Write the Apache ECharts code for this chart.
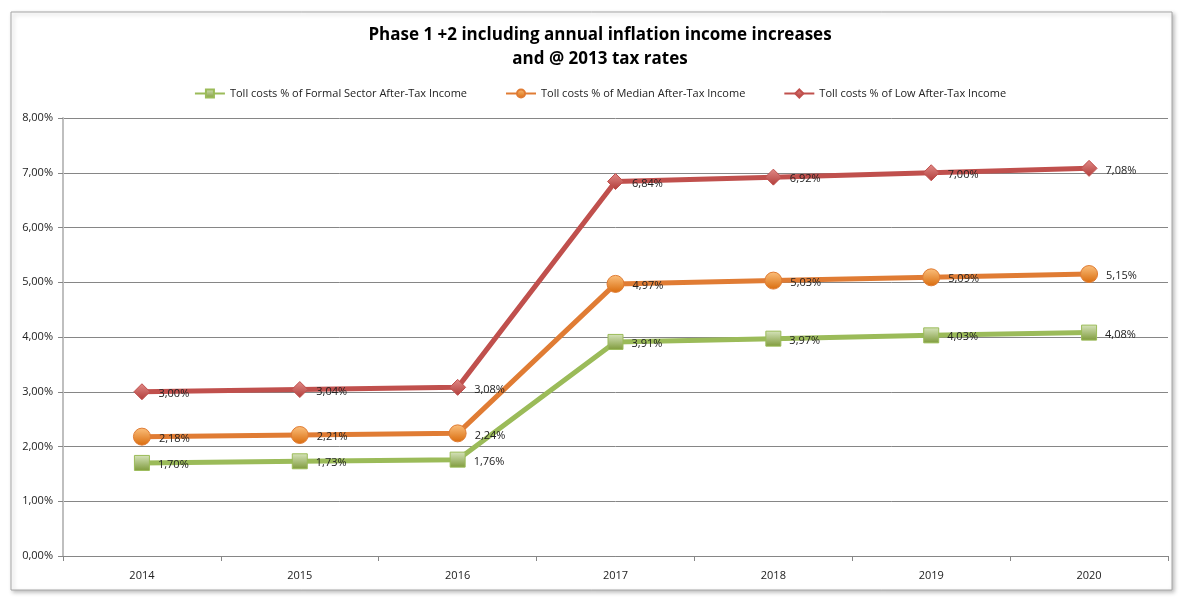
<!DOCTYPE html>
<html>
<head>
<meta charset="utf-8">
<script src="https://cdn.jsdelivr.net/npm/echarts@6/dist/echarts.min.js"></script>
<style>
  html, body { margin: 0; padding: 0; background: #fff; }
  #chart-container { width: 1200px; height: 603px; }
</style>
</head>
<body>
<div id="chart-container"></div>
<script>
var years = ['2014', '2015', '2016', '2017', '2018', '2019', '2020'];
var formalSector = [1.70, 1.73, 1.76, 3.91, 3.97, 4.03, 4.08];
var median = [2.18, 2.21, 2.24, 4.97, 5.03, 5.09, 5.15];
var lowIncome = [3.00, 3.04, 3.08, 6.84, 6.92, 7.00, 7.08];
var seriesNames = [
  'Toll costs % of Formal Sector After-Tax Income',
  'Toll costs % of Median After-Tax Income',
  'Toll costs % of Low After-Tax Income'
];

var dom = document.getElementById('chart-container');
var myChart = echarts.init(dom, null, { renderer: 'canvas' });

function pct(v) {
  return v.toFixed(2).replace('.', ',') + '%';
}

function grad(top, bottom) {
  return new echarts.graphic.LinearGradient(0, 0, 0, 1, [
    { offset: 0, color: top },
    { offset: 1, color: bottom }
  ]);
}

function lineSeries(name, data, color, symbol, size, markerColor) {
  return {
    name: name,
    type: 'line',
    data: data,
    symbol: symbol,
    symbolSize: size,
    z: 3,
    lineStyle: { color: color, width: 5 },
    itemStyle: { color: markerColor, borderColor: color, borderWidth: 1 },
    label: {
      show: true,
      position: 'right',
      distance: 8,
      offset: [0, 2],
      color: '#222',
      fontSize: 11,
      fontFamily: 'Open Sans',
      formatter: function (p) { return pct(p.value); }
    },
    emphasis: { disabled: true }
  };
}

var option = {
  backgroundColor: '#fff',
  animation: false,
  textStyle: { fontFamily: 'Open Sans' },
  graphic: [
    {
      type: 'rect',
      z: -10,
      shape: { x: 11, y: 12, width: 1161, height: 578 },
      style: { fill: '#fff', stroke: '#a6a6a6', lineWidth: 1, shadowColor: 'rgba(0,0,0,0.25)', shadowBlur: 4, shadowOffsetX: 2, shadowOffsetY: 2 }
    },
    {
      type: 'text',
      left: 'center',
      top: 23,
      style: {
        text: 'Phase 1 +2 including annual inflation income increases\nand @ 2013 tax rates',
        font: 'bold 17px "Open Sans"',
        fill: '#000',
        textAlign: 'center',
        lineHeight: 24
      }
    }
  ],
  legend: {
    top: 83,
    left: 'center',
    itemGap: 38,
    itemWidth: 30,
    itemHeight: 10,
    textStyle: { fontSize: 11, color: '#222', fontFamily: 'Open Sans' },
    data: seriesNames
  },
  grid: { left: 63, right: 32, top: 118, bottom: 47 },
  xAxis: {
    type: 'category',
    data: years,
    boundaryGap: true,
    axisLine: { lineStyle: { color: '#868686' } },
    axisTick: { show: true, lineStyle: { color: '#868686' }, length: 5 },
    axisLabel: { color: '#222', fontSize: 11, margin: 14 }
  },
  yAxis: {
    type: 'value',
    min: 0,
    max: 8,
    interval: 1,
    axisLine: { show: true, lineStyle: { color: '#bfbfbf', width: 2 } },
    axisTick: { show: true, length: 5, lineStyle: { color: '#868686' } },
    axisLabel: { color: '#222', fontSize: 11, margin: 10, formatter: function (v) { return pct(v); } },
    splitLine: { lineStyle: { color: '#868686', width: 1 } }
  },
  series: [
    lineSeries(seriesNames[0], formalSector, '#9bbb59', 'rect', 15, grad('#d7e4bd', '#7e9a3a')),
    lineSeries(seriesNames[1], median, '#e07c34', 'circle', 17, grad('#fbc07d', '#d96b0c')),
    lineSeries(seriesNames[2], lowIncome, '#c0504d', 'diamond', 16, grad('#e28b88', '#b03c39'))
  ]
};

if (option && typeof option === 'object') {
  myChart.setOption(option);
}

window.addEventListener('resize', myChart.resize);
</script>
</body>
</html>
